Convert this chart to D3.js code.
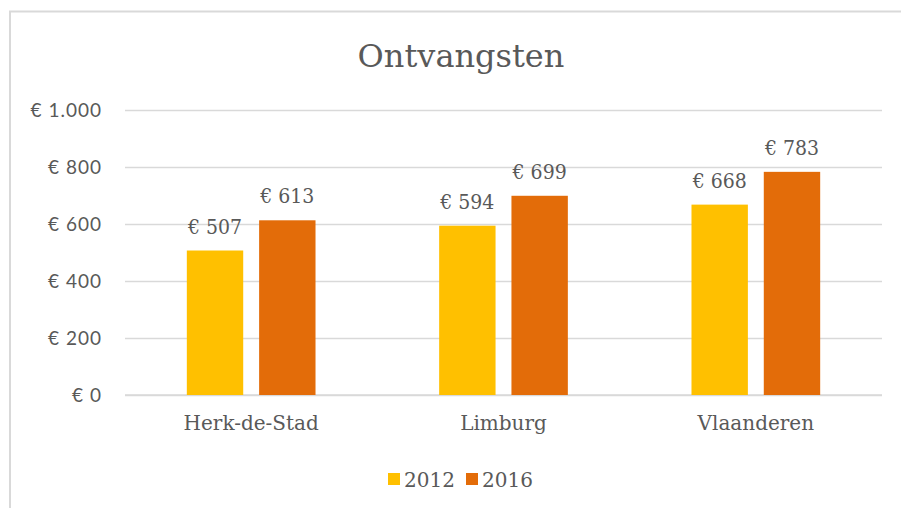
<!DOCTYPE html>
<html lang="nl">
<head>
    <meta charset="UTF-8">
    <title>Ontvangsten</title>
    <script src="https://d3js.org/d3.v7.min.js"></script>
    <style>
        * { margin: 0; padding: 0; box-sizing: border-box; }
        body { background: #fff; font-family: "DejaVu Serif", serif; }
    </style>
</head>
<body>
    <div id="chart"></div>
    <script>
        // data
        const categories = ["Herk-de-Stad", "Limburg", "Vlaanderen"];
        const years = ["2012", "2016"];
        const values2012 = [507, 594, 668];
        const values2016 = [613, 699, 783];
        const yTicks = [0, 200, 400, 600, 800, 1000];

        const colors = ["#FFC000", "#E36C09"];
        const textColor = "#595959";

        const W = 901, H = 508;
        const margin = { top: 110, right: 19, bottom: 113, left: 125 };
        const width = W - margin.left - margin.right,
              height = H - margin.top - margin.bottom;

        const svg = d3.select("#chart")
                      .append("svg")
                      .attr("width", W)
                      .attr("height", H);

        // chart frame
        svg.append("path")
           .attr("d", `M10,${H} V11.5 H${W}`)
           .attr("fill", "none")
           .attr("stroke", "#d9d9d9")
           .attr("stroke-width", 2);

        const g = svg.append("g")
                     .attr("transform", `translate(${margin.left},${margin.top})`);

        const data = categories.map((c, i) => ({
            category: c,
            values: [values2012[i], values2016[i]]
        }));

        const x0 = d3.scaleBand()
                     .domain(categories)
                     .range([0, width])
                     .paddingInner(0.49)
                     .paddingOuter(0.245);

        const x1 = d3.scaleBand()
                     .domain(years)
                     .range([0, x0.bandwidth()])
                     .paddingInner(0.22);

        const y = d3.scaleLinear()
                    .domain([0, 1000])
                    .range([height, 0]);

        // gridlines
        g.append("g")
         .call(d3.axisLeft(y)
                 .tickValues(yTicks)
                 .tickSize(-width)
                 .tickFormat(""))
         .call(ax => ax.select(".domain").remove())
         .selectAll("line")
         .attr("stroke", "#d9d9d9")
         .attr("stroke-width", 1.3);

        // y axis labels
        const fmt = v => "€ " + d3.format(",")(v).replace(/,/g, ".");
        g.append("g")
         .call(d3.axisLeft(y)
                 .tickValues(yTicks)
                 .tickSize(0)
                 .tickPadding(23)
                 .tickFormat(fmt))
         .call(ax => ax.select(".domain").remove())
         .selectAll("text")
         .attr("fill", textColor)
         .style("font-family", "Lato, sans-serif")
         .style("font-size", "19px")
         .style("letter-spacing", "1px");

        // baseline
        g.append("line")
         .attr("x1", 0)
         .attr("x2", width)
         .attr("y1", height)
         .attr("y2", height)
         .attr("stroke", "#d9d9d9")
         .attr("stroke-width", 1.6);

        // x axis labels
        g.append("g")
         .attr("transform", `translate(0,${height})`)
         .call(d3.axisBottom(x0).tickSize(0).tickPadding(21))
         .call(ax => ax.select(".domain").remove())
         .selectAll("text")
         .attr("fill", textColor)
         .style("font-family", "'DejaVu Serif', serif")
         .style("font-size", "20px");

        // bars
        const groups = g.selectAll(".group")
                        .data(data)
                        .join("g")
                        .attr("transform", d => `translate(${x0(d.category)},0)`);

        groups.selectAll("rect")
              .data(d => d.values.map((v, i) => ({ year: years[i], value: v, i })))
              .join("rect")
              .attr("x", d => x1(d.year))
              .attr("y", d => y(d.value))
              .attr("width", x1.bandwidth())
              .attr("height", d => height - y(d.value))
              .attr("fill", d => colors[d.i]);

        groups.selectAll(".lbl")
              .data(d => d.values.map((v, i) => ({ year: years[i], value: v, i })))
              .join("text")
              .attr("class", "lbl")
              .attr("x", d => x1(d.year) + x1.bandwidth() / 2)
              .attr("y", d => y(d.value) - 17)
              .attr("text-anchor", "middle")
              .attr("fill", textColor)
              .style("font-family", "'DejaVu Serif Condensed', 'DejaVu Serif', serif")
              .style("font-size", "21px")
              .text(d => fmt(d.value));

        // title
        svg.append("text")
           .attr("x", 461)
           .attr("y", 67)
           .attr("text-anchor", "middle")
           .attr("fill", textColor)
           .style("font-family", "'DejaVu Serif', serif")
           .style("font-size", "32px")
           .text("Ontvangsten");

        // legend
        const legend = svg.append("g")
                          .attr("transform", "translate(388,473)");
        const lx = [0, 78];
        years.forEach((yr, i) => {
            const row = legend.append("g")
                              .attr("transform", `translate(${lx[i]},0)`);
            row.append("rect")
               .attr("width", 12)
               .attr("height", 12)
               .attr("fill", colors[i]);
            row.append("text")
               .attr("x", 16)
               .attr("y", 14)
               .attr("fill", textColor)
               .style("font-family", "'DejaVu Serif', serif")
               .style("font-size", "20px")
               .text(yr);
        });
    </script>
</body>
</html>
